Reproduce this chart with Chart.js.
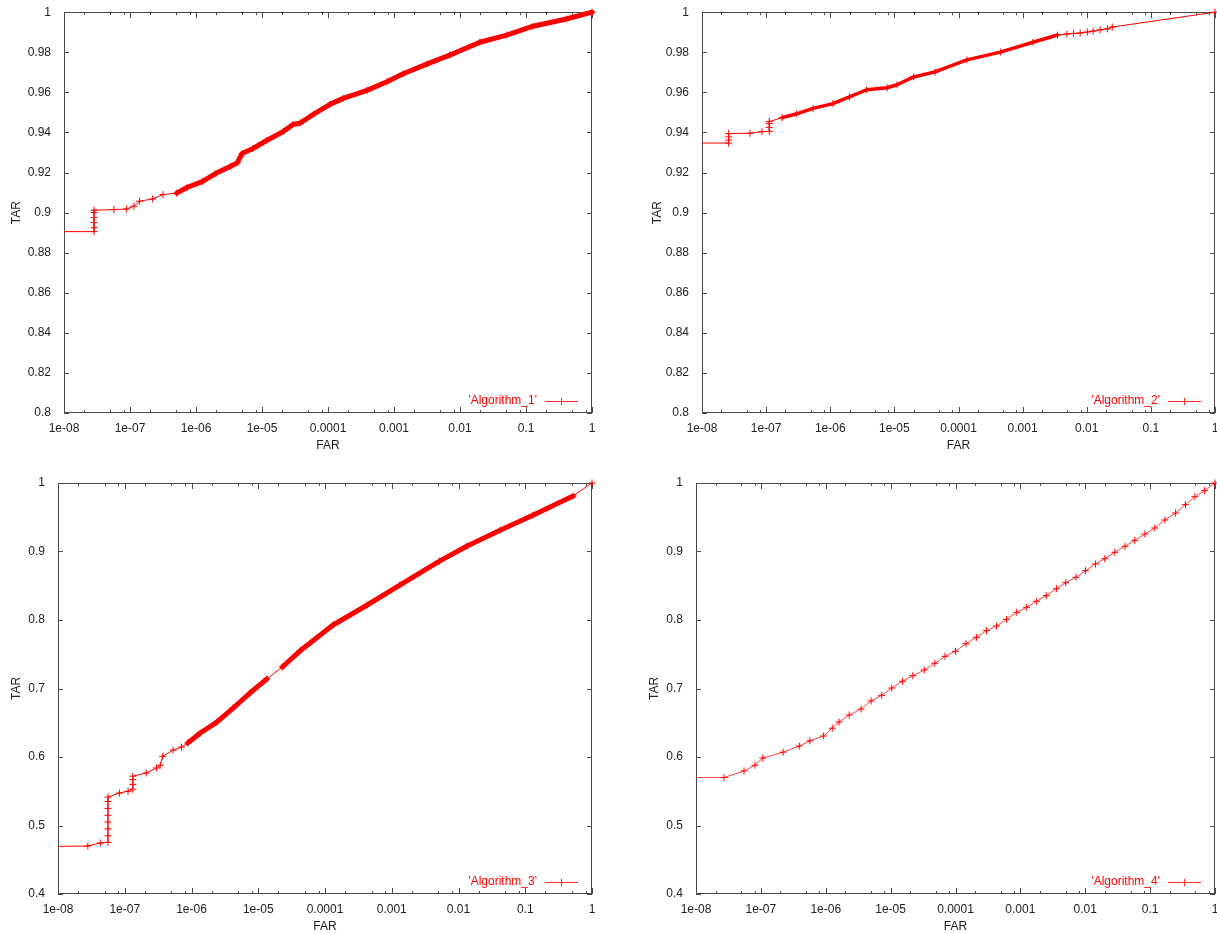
<!DOCTYPE html>
<html>
<head>
<meta charset="utf-8">
<script src="https://cdn.jsdelivr.net/npm/chart.js@4"></script>
<style>
  html, body { margin: 0; padding: 0; background: #fff; overflow: hidden; width: 1217px; height: 934px; }
  canvas { position: absolute; }
</style>
</head>
<body>
<canvas id="c1" width="608" height="453" style="left:0px;top:0px;width:608px;height:453px"></canvas>
<canvas id="c2" width="580" height="453" style="left:640px;top:0px;width:580px;height:453px"></canvas>
<canvas id="c3" width="608" height="464" style="left:0px;top:470px;width:608px;height:464px"></canvas>
<canvas id="c4" width="580" height="464" style="left:640px;top:470px;width:580px;height:464px"></canvas>
<script>
// ---------------- data ----------------
const xTickValues = [1e-8, 1e-7, 1e-6, 1e-5, 1e-4, 1e-3, 1e-2, 1e-1, 1];
const xTickLabels = ['1e-08', '1e-07', '1e-06', '1e-05', '0.0001', '0.001', '0.01', '0.1', '1'];
const yTickValuesTop = [0.8, 0.82, 0.84, 0.86, 0.88, 0.9, 0.92, 0.94, 0.96, 0.98, 1];
const yTickLabelsTop = ['0.8', '0.82', '0.84', '0.86', '0.88', '0.9', '0.92', '0.94', '0.96', '0.98', '1'];
const yTickValuesBottom = [0.4, 0.5, 0.6, 0.7, 0.8, 0.9, 1];
const yTickLabelsBottom = ['0.4', '0.5', '0.6', '0.7', '0.8', '0.9', '1'];
const seriesNames = ["'Algorithm_1'", "'Algorithm_2'", "'Algorithm_3'", "'Algorithm_4'"];

const far1 = [1e-9, 2.85e-8, 2.85e-8, 2.85e-8, 2.85e-8, 2.85e-8, 2.85e-8, 5.7e-8, 8.9e-8, 1.15e-7, 1.4e-7, 2.2e-7,
  3.16e-7, 5.1e-7, 7.3e-7, 1.26e-6, 2e-6, 3.3e-6, 4.2e-6, 5e-6, 7.3e-6, 1.18e-5, 2.1e-5, 2.95e-5, 3.8e-5, 6e-5,
  1.07e-4, 1.7e-4, 3.9e-4, 7.8e-4, 1.38e-3, 3.2e-3, 7e-3, 2e-2, 5.1e-2, 0.128, 0.41, 1];
const tar1 = [0.8905, 0.8905, 0.8925, 0.895, 0.8975, 0.9, 0.9012, 0.9015, 0.9018, 0.9032, 0.9057, 0.9068,
  0.909, 0.9097, 0.9125, 0.9156, 0.9196, 0.923, 0.9248, 0.9295, 0.932, 0.936, 0.9405, 0.944, 0.9447, 0.949,
  0.954, 0.957, 0.961, 0.9653, 0.9693, 0.9742, 0.9786, 0.985, 0.9886, 0.993, 0.9966, 1.0];

const far2 = [1e-9, 2.6e-8, 2.6e-8, 2.6e-8, 2.6e-8, 5.6e-8, 8.6e-8, 1.12e-7, 1.12e-7, 1.12e-7, 1.12e-7, 1.78e-7,
  3e-7, 5.4e-7, 1.1e-6, 2e-6, 3.7e-6, 7.7e-6, 1.1e-5, 2e-5, 4.3e-5, 1.35e-4, 4.5e-4, 1.45e-3, 3.5e-3, 4.9e-3,
  6.2e-3, 7.9e-3, 1.02e-2, 1.26e-2, 1.62e-2, 2.1e-2, 2.5e-2, 1];
const tar2 = [0.9347, 0.9347, 0.9362, 0.9378, 0.9394, 0.9396, 0.9404, 0.9405, 0.9425, 0.9445, 0.9454, 0.9474,
  0.9493, 0.952, 0.9544, 0.9578, 0.9613, 0.9623, 0.9638, 0.9677, 0.9702, 0.9762, 0.9801, 0.985, 0.9886, 0.9891,
  0.9894, 0.9896, 0.9901, 0.9906, 0.9912, 0.9917, 0.9926, 1.0];

const far3 = [1e-9, 2.8e-8, 4.3e-8, 5.6e-8, 5.6e-8, 5.6e-8, 5.6e-8, 5.6e-8, 5.6e-8, 5.6e-8, 5.6e-8, 8.3e-8,
  1.12e-7, 1.32e-7, 1.32e-7, 1.32e-7, 1.32e-7, 2.1e-7, 3e-7, 3.4e-7, 3.7e-7, 5.3e-7, 7.1e-7, 8.8e-7, 1.35e-6,
  2.4e-6, 4.2e-6, 7.5e-6, 1.35e-5, 2.3e-5, 4.2e-5, 1.32e-4, 4.3e-4, 1.32e-3, 5.2e-3, 1.35e-2, 4.2e-2, 0.13, 0.52, 1];
const tar3 = [0.4686, 0.47, 0.4745, 0.4755, 0.485, 0.495, 0.505, 0.515, 0.525, 0.535, 0.5416, 0.5474,
  0.55, 0.553, 0.56, 0.567, 0.572, 0.5766, 0.584, 0.588, 0.601, 0.61, 0.6146, 0.6204, 0.635,
  0.651, 0.6715, 0.6934, 0.714, 0.7314, 0.7547, 0.7927, 0.8219, 0.851, 0.886, 0.908, 0.931, 0.953, 0.981, 1.0];

const far4 = [1e-9, 2.7e-8, 5.5e-8, 8.1e-8, 1.07e-7, 2.2e-7, 3.9e-7, 5.7e-7, 9.2e-7, 1.26e-6, 1.6e-6, 2.3e-6,
  3.5e-6, 5e-6, 7.3e-6, 1.04e-5, 1.52e-5, 2.2e-5, 3.3e-5, 4.8e-5, 6.9e-5, 1e-4, 1.45e-4, 2.1e-4, 3e-4, 4.3e-4,
  6.1e-4, 8.8e-4, 1.25e-3, 1.78e-3, 2.5e-3, 3.6e-3, 5e-3, 7.2e-3, 1.01e-2, 1.44e-2, 2e-2, 2.86e-2, 4.1e-2,
  5.8e-2, 8.3e-2, 0.118, 0.169, 0.247, 0.35, 0.49, 0.69, 1];
const tar4 = [0.57, 0.57, 0.5796, 0.588, 0.5985, 0.607, 0.616, 0.6236, 0.6306, 0.642, 0.651, 0.6613,
  0.67, 0.6818, 0.69, 0.7007, 0.7105, 0.7187, 0.727, 0.7368, 0.747, 0.7543, 0.7654, 0.7747, 0.7844, 0.7912,
  0.801, 0.8112, 0.8185, 0.8273, 0.8355, 0.8457, 0.8545, 0.8623, 0.872, 0.8818, 0.8895, 0.8988, 0.9076,
  0.9163, 0.9255, 0.9343, 0.946, 0.9562, 0.9684, 0.98, 0.9888, 1.0];

// ---------------- styling ----------------
Chart.defaults.font.family = "'Liberation Sans', Arial, Helvetica, sans-serif";
Chart.defaults.font.size = 12;
Chart.defaults.color = '#222';

const minorMultipliers = [2, 5, 8];

const gnuplotFrame = {
  id: 'gnuplotFrame',
  beforeDatasetsDraw(chart) {
    const ctx = chart.ctx, a = chart.chartArea, xs = chart.scales.x, ys = chart.scales.y;
    ctx.save();
    ctx.strokeStyle = '#4a4a4a';
    ctx.lineWidth = 1;
    ctx.strokeRect(Math.round(a.left) + 0.5, Math.round(a.top) + 0.5,
      Math.round(a.right - a.left) - 1, Math.round(a.bottom - a.top) - 1);
    ctx.beginPath();
    xTickValues.forEach((d, i) => {
      const px = Math.round(xs.getPixelForValue(d)) + 0.5;
      ctx.moveTo(px, a.bottom); ctx.lineTo(px, a.bottom - 6);
      ctx.moveTo(px, a.top); ctx.lineTo(px, a.top + 6);
      if (i < xTickValues.length - 1) {
        minorMultipliers.forEach(m => {
          const q = Math.round(xs.getPixelForValue(d * m)) + 0.5;
          ctx.moveTo(q, a.bottom); ctx.lineTo(q, a.bottom - 3);
          ctx.moveTo(q, a.top); ctx.lineTo(q, a.top + 3);
        });
      }
    });
    ys.ticks.forEach(t => {
      const py = Math.round(ys.getPixelForValue(t.value)) + 0.5;
      ctx.moveTo(a.left, py); ctx.lineTo(a.left + 5, py);
      ctx.moveTo(a.right, py); ctx.lineTo(a.right - 5, py);
    });
    ctx.stroke();
    ctx.restore();
  },
  afterDraw(chart) {
    const ctx = chart.ctx, a = chart.chartArea;
    const ds = chart.data.datasets[0];
    const y = a.bottom - 12;
    ctx.save();
    ctx.font = "12px 'Liberation Sans', Arial, sans-serif";
    ctx.fillStyle = '#ff0000';
    ctx.textAlign = 'right';
    ctx.textBaseline = 'middle';
    ctx.fillText(ds.label, a.right - 55, y);
    ctx.strokeStyle = 'rgba(255,0,0,0.85)';
    ctx.lineWidth = 1;
    ctx.beginPath();
    ctx.moveTo(a.right - 47, y + 0.5); ctx.lineTo(a.right - 14, y + 0.5);
    const cx = a.right - 30.5;
    ctx.moveTo(cx, y - 3); ctx.lineTo(cx, y + 4);
    ctx.stroke();
    ctx.restore();
  }
};

function makeChart(id, opts) {
  const points = opts.far.map((x, i) => ({ x: x, y: opts.tar[i] }));
  const thick = opts.thick;
  return new Chart(document.getElementById(id), {
    type: 'line',
    data: {
      datasets: [{
        label: opts.name,
        data: points,
        borderColor: opts.lineColor,
        borderWidth: 1,
        pointStyle: 'cross',
        pointRadius: 3.5,
        pointBorderWidth: 1,
        pointBorderColor: '#ff0000',
        pointBackgroundColor: '#ff0000',
        borderJoinStyle: 'round',
        borderCapStyle: 'round',
        tension: 0,
        clip: { left: 0, top: 5, right: 5, bottom: 0 },
        segment: {
          borderWidth: ctx => {
            const x0 = ctx.p0.parsed.x;
            return thick.ranges.some(r => x0 >= r[0] && x0 < r[1]) ? thick.width : 1;
          },
          borderColor: ctx => {
            const x0 = ctx.p0.parsed.x;
            return thick.ranges.some(r => x0 >= r[0] && x0 < r[1]) ? '#ff0000' : opts.lineColor;
          }
        }
      }]
    },
    options: {
      responsive: false,
      animation: false,
      events: [],
      layout: { padding: { left: 0, top: opts.padTop, right: opts.padRight, bottom: 0 } },
      plugins: { legend: { display: false }, tooltip: { enabled: false } },
      scales: {
        x: {
          type: 'logarithmic',
          min: 1e-8, max: 1,
          grid: { display: false },
          border: { display: false },
          afterBuildTicks: s => { s.ticks = xTickValues.map(v => ({ value: v })); },
          afterFit: s => { s.height = 40; },
          ticks: {
            autoSkip: false, maxRotation: 0, minRotation: 0, padding: 0, color: '#222',
            callback: (v, i) => xTickLabels[i]
          },
          title: { display: true, text: 'FAR', color: '#222', font: { size: 12, lineHeight: '14px' }, padding: { top: 0, bottom: 0 } }
        },
        y: {
          type: 'linear',
          min: opts.yMin, max: 1,
          grid: { display: false },
          border: { display: false },
          afterBuildTicks: s => { s.ticks = opts.yVals.map(v => ({ value: v })); },
          afterFit: s => { s.width = opts.yWidth; },
          ticks: {
            autoSkip: false, padding: 5, color: '#222',
            callback: (v, i) => opts.yLabels[i]
          },
          title: { display: true, text: 'TAR', color: '#222', font: { size: 12, lineHeight: '14px' }, padding: { top: opts.titlePad, bottom: 0 } }
        }
      }
    },
    plugins: [gnuplotFrame]
  });
}

makeChart('c1', { far: far1, tar: tar1, name: seriesNames[0], lineColor: '#ff0000',
  thick: { ranges: [[4.5e-7, 0.9]], width: 5 },
  yMin: 0.8, yVals: yTickValuesTop, yLabels: yTickLabelsTop, yWidth: 64, padTop: 10, padRight: 16, titlePad: 10 });
makeChart('c2', { far: far2, tar: tar2, name: seriesNames[1], lineColor: '#ff0000',
  thick: { ranges: [[1.7e-7, 3.4e-3]], width: 3.5 },
  yMin: 0.8, yVals: yTickValuesTop, yLabels: yTickLabelsTop, yWidth: 62, padTop: 10, padRight: 5, titlePad: 11 });
makeChart('c3', { far: far3, tar: tar3, name: seriesNames[2], lineColor: '#ff0000',
  thick: { ranges: [[8e-7, 1.3e-5], [2.2e-5, 0.5]], width: 5 },
  yMin: 0.4, yVals: yTickValuesBottom, yLabels: yTickLabelsBottom, yWidth: 58, padTop: 13, padRight: 16, titlePad: 10 });
makeChart('c4', { far: far4, tar: tar4, name: seriesNames[3], lineColor: 'rgba(255,0,0,0.75)',
  thick: { ranges: [], width: 1 },
  yMin: 0.4, yVals: yTickValuesBottom, yLabels: yTickLabelsBottom, yWidth: 56, padTop: 13, padRight: 5, titlePad: 8 });
</script>
</body>
</html>
